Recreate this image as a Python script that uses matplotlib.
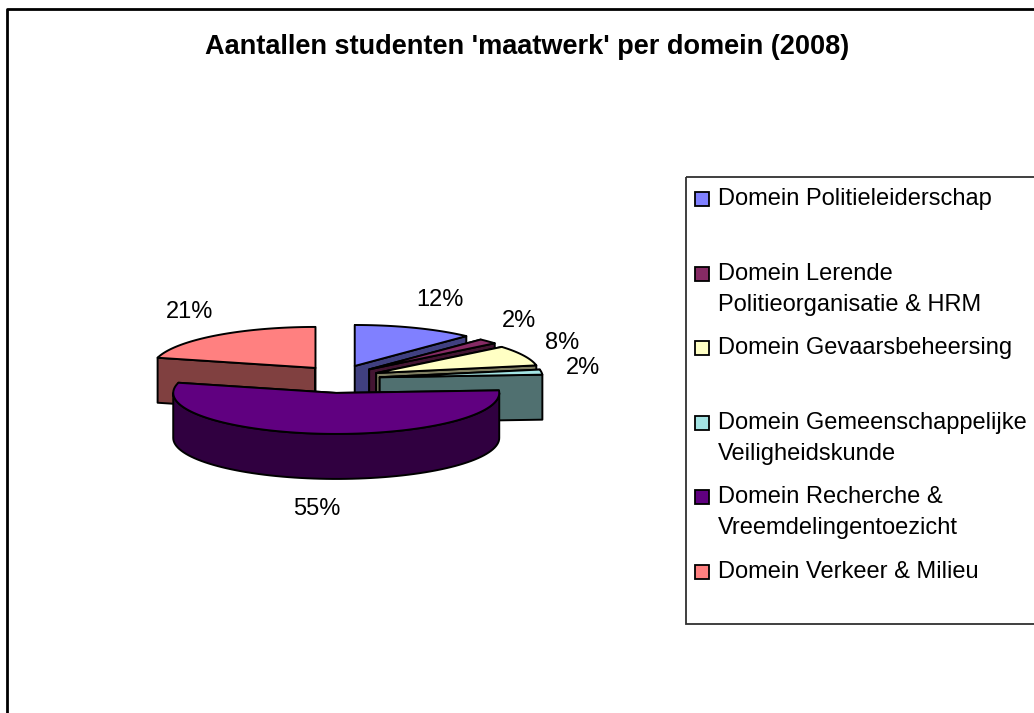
import numpy as np
import matplotlib.pyplot as plt
from matplotlib.patches import Polygon, Rectangle

plt.rcParams['font.family'] = ['Liberation Sans', 'DejaVu Sans']

labels = ["Domein Politieleiderschap",
          "Domein Lerende\nPolitieorganisatie & HRM",
          "Domein Gevaarsbeheersing",
          "Domein Gemeenschappelijke\nVeiligheidskunde",
          "Domein Recherche &\nVreemdelingentoezicht",
          "Domein Verkeer & Milieu"]
values = [12, 2, 8, 2, 55, 21]
top_colors = ["#8080ff", "#862a64", "#ffffc4", "#a4e4e4", "#600080", "#ff8080"]
side_colors = ["#404080", "#431532", "#807f62", "#507070", "#300040", "#804040"]

# pie geometry in pixels (axes is set up in pixel coordinates)
cx, cy = 340, 379
R, r, h = 163, 41, 45
ex, ey = 40, 14
lx, ly = 245, 85

fig = plt.figure(figsize=(10.34, 7.13), dpi=100)
ax = fig.add_axes([0, 0, 1, 1])
ax.set_xlim(0, 1034)
ax.set_ylim(713, 0)
ax.axis('off')


def pt(x0, y0, t, dy=0):
    return (x0 + R * np.cos(t), y0 - r * np.sin(t) + dy)


cum = np.cumsum([0] + values) / sum(values)
slices = []
for i, v in enumerate(values):
    t1 = np.radians(90 - 360 * cum[i])
    t2 = np.radians(90 - 360 * cum[i + 1])
    m = (t1 + t2) / 2
    x0 = cx + ex * np.cos(m)
    y0 = cy - ey * np.sin(m)
    slices.append((y0, i, t1, t2, m, x0))

# back slices first
for y0, i, t1, t2, m, x0 in sorted(slices):
    kw = dict(edgecolor='black', linewidth=1.4, joinstyle='round')
    # radial faces
    for a in (t1, t2):
        p = pt(x0, y0, a)
        ax.add_patch(Polygon([(x0, y0), p, (p[0], p[1] + h), (x0, y0 + h)],
                             facecolor=side_colors[i], **kw))
    # front curved wall
    f1, f2 = max(t2, -np.pi), min(t1, 0)
    if f1 < f2:
        ts = np.linspace(f1, f2, 80)
        upper = [pt(x0, y0, t) for t in ts]
        lower = [pt(x0, y0, t, h) for t in ts[::-1]]
        ax.add_patch(Polygon(upper + lower, facecolor=side_colors[i], **kw))
    # top face
    ts = np.linspace(t1, t2, 100)
    ax.add_patch(Polygon([(x0, y0)] + [pt(x0, y0, t) for t in ts],
                         facecolor=top_colors[i], **kw))

# percentage labels
for i, v in enumerate(values):
    m = slices[i][4]
    yy = cy - ly * np.sin(m) + (h if np.sin(m) < 0 else 0)
    xx = cx + lx * np.cos(m) + (10 if 0 < np.cos(m) < 0.5 else 0)
    ax.text(xx, yy, f"{v}%", fontsize=17, ha='center', va='center')

ax.text(527, 47, "Aantallen studenten 'maatwerk' per domein (2008)",
        fontsize=19.5, fontweight='bold', ha='center', va='center')

# chart border
ax.plot([7, 7, 1040], [713, 9, 9], color='black', lw=2, clip_on=False)

# legend
ax.add_patch(Rectangle((686, 177), 400, 447, fill=False,
                       edgecolor='#303030', lw=1.3, clip_on=True))
for i, lab in enumerate(labels):
    y = 199 + i * 74.6
    ax.add_patch(Rectangle((694.5, y - 7), 14, 14, facecolor=top_colors[i],
                           edgecolor='black', lw=1.3))
    for k, line in enumerate(lab.split("\n")):
        ax.text(718, y + k * 31, line, fontsize=17, ha='left', va='center')

fig.savefig("out.png", dpi=100)
